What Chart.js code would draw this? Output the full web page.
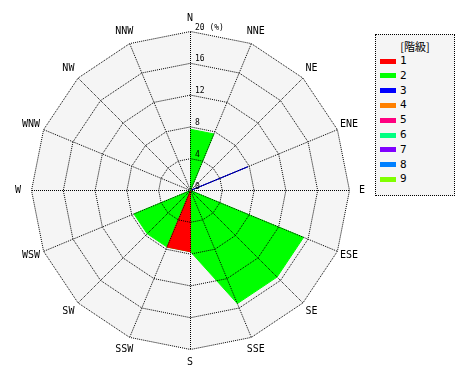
<!DOCTYPE html>
<html>
<head>
<meta charset="utf-8">
<script src="https://cdn.jsdelivr.net/npm/chart.js@4/dist/chart.umd.min.js"></script>
<style>
    body { margin: 0; background: #fff; }
    #wrap { position: relative; width: 470px; height: 380px; }
    #rose { position: absolute; left: 0; top: 0; }
    #legend {
        position: absolute; left: 375px; top: 34px; width: 78px; height: 160px;
        background: #f5f5f5; border: 1px dotted #000;
        font: 11px "DejaVu Sans Mono", monospace; color: #000;
    }
    #legend .title {
        position: absolute; left: 0; width: 100%; top: 3px; text-align: center;
        font: 11px "Noto Sans CJK JP", sans-serif; color: #000;
    }
    #legend .item { position: absolute; left: 4px; height: 12px; line-height: 12px; }
    #legend .sw { display: inline-block; width: 16px; height: 5px; vertical-align: middle; margin-right: 4px; }
</style>
</head>
<body>
<div id="wrap">
    <canvas id="rose" width="380" height="380"></canvas>
    <div id="legend"><div class="title">[階級]</div></div>
</div>
<script>
// wind directions, clockwise from north
const directions = ['N', 'NNE', 'NE', 'ENE', 'E', 'ESE', 'SE', 'SSE', 'S', 'SSW', 'SW', 'WSW', 'W', 'WNW', 'NW', 'NNW'];

// frequency (%) per class
const class1 = [0, 0, 0, 0, 0, 0, 0, 0, 7.7, 7.7, 0, 0, 0, 0, 0, 0];
const class2 = [7.7, 7.7, 0, 0, 0, 15.4, 15.4, 15.4, 7.7, 7.7, 7.7, 7.7, 0, 0, 0, 0];
const class3 = [0, 0, 0, 7.8, 0, 0, 0, 0, 0, 0, 0, 0, 0, 0, 0, 0];
const class4 = [0, 0, 0, 0, 0, 0, 0, 0, 0, 0, 0, 0, 0, 0, 0, 0];
const class5 = [0, 0, 0, 0, 0, 0, 0, 0, 0, 0, 0, 0, 0, 0, 0, 0];
const class6 = [0, 0, 0, 0, 0, 0, 0, 0, 0, 0, 0, 0, 0, 0, 0, 0];
const class7 = [0, 0, 0, 0, 0, 0, 0, 0, 0, 0, 0, 0, 0, 0, 0, 0];
const class8 = [0, 0, 0, 0, 0, 0, 0, 0, 0, 0, 0, 0, 0, 0, 0, 0];
const class9 = [0, 0, 0, 0, 0, 0, 0, 0, 0, 0, 0, 0, 0, 0, 0, 0];

const classNames = ['1', '2', '3', '4', '5', '6', '7', '8', '9'];
const classColors = ['#ff0000', '#00ff00', '#0000ff', '#ff8000', '#ff0080', '#00ff80', '#8000ff', '#0080ff', '#80ff00'];
const classValues = [class1, class2, class3, class4, class5, class6, class7, class8, class9];

// radial ticks
const tickValues = [0, 4, 8, 12, 16, 20];
const tickLabels = ['0', '4', '8', '12', '16', '20 (%)'];

// half pixel shift so the dotted grid stays crisp
const crispPlugin = {
    id: 'crisp',
    beforeDraw(chart) {
        chart.ctx.save();
        chart.ctx.translate(0.5, 0.5);
    },
    afterDraw(chart) {
        chart.ctx.restore();
    }
};

// grey plot background under the datasets (grid itself is drawn on top)
const backPlugin = {
    id: 'back',
    beforeDatasetsDraw(chart) {
        const r = chart.scales.r;
        const ctx = chart.ctx;
        ctx.save();
        ctx.beginPath();
        directions.forEach((d, i) => {
            const p = r.getPointPositionForValue(i, 20);
            if (i === 0) ctx.moveTo(p.x, p.y); else ctx.lineTo(p.x, p.y);
        });
        ctx.closePath();
        ctx.fillStyle = '#f5f5f5';
        ctx.fill();
        ctx.restore();
    }
};

// direction names and tick labels
const labelPlugin = {
    id: 'labels',
    afterDraw(chart) {
        const r = chart.scales.r;
        const ctx = chart.ctx;
        ctx.save();
        ctx.fillStyle = '#000';
        ctx.textAlign = 'center';
        ctx.textBaseline = 'middle';
        ctx.font = '10px "DejaVu Sans Mono"';
        directions.forEach((d, i) => {
            const p = r.getPointPosition(i, r.drawingArea + 13);
            ctx.fillText(d, p.x, p.y);
        });
        ctx.font = '8px "DejaVu Sans Mono"';
        ctx.textAlign = 'left';
        tickValues.forEach((v, i) => {
            const y = r.yCenter - r.getDistanceFromCenterForValue(v) - 3.5;
            ctx.fillText(tickLabels[i], r.xCenter + 5, y);
        });
        ctx.restore();
    }
};

document.addEventListener('DOMContentLoaded', function() {
    const datasets = classValues.map((vals, i) => ({
        label: classNames[i],
        data: vals,
        borderColor: classColors[i],
        backgroundColor: classColors[i],
        borderWidth: 1,
        pointRadius: 0,
        pointHoverRadius: 0,
        fill: true
    }));

    new Chart(document.getElementById('rose').getContext('2d'), {
        type: 'radar',
        data: { labels: directions, datasets: datasets },
        options: {
            responsive: false,
            animation: false,
            events: [],
            layout: { padding: 31 },
            elements: { line: { tension: 0 } },
            plugins: { legend: { display: false }, tooltip: { enabled: false } },
            scales: {
                r: {
                    min: 0,
                    max: 20,
                    ticks: { stepSize: 4, display: false },
                    pointLabels: { display: false },
                    grid: { circular: false, color: '#000', lineWidth: 1, z: 1 },
                    border: { dash: [1, 1] },
                    angleLines: { color: '#000', lineWidth: 1, borderDash: [1, 1], borderDashOffset: 0.5 }
                }
            }
        },
        plugins: [crispPlugin, backPlugin, labelPlugin]
    });

    // legend box
    const legend = document.getElementById('legend');
    classNames.forEach((name, i) => {
        const item = document.createElement('div');
        item.className = 'item';
        item.style.top = (20 + i * 14.8) + 'px';
        item.innerHTML = '<span class="sw" style="background:' + classColors[i] + '"></span>' + name;
        legend.appendChild(item);
    });
});
</script>
</body>
</html>
